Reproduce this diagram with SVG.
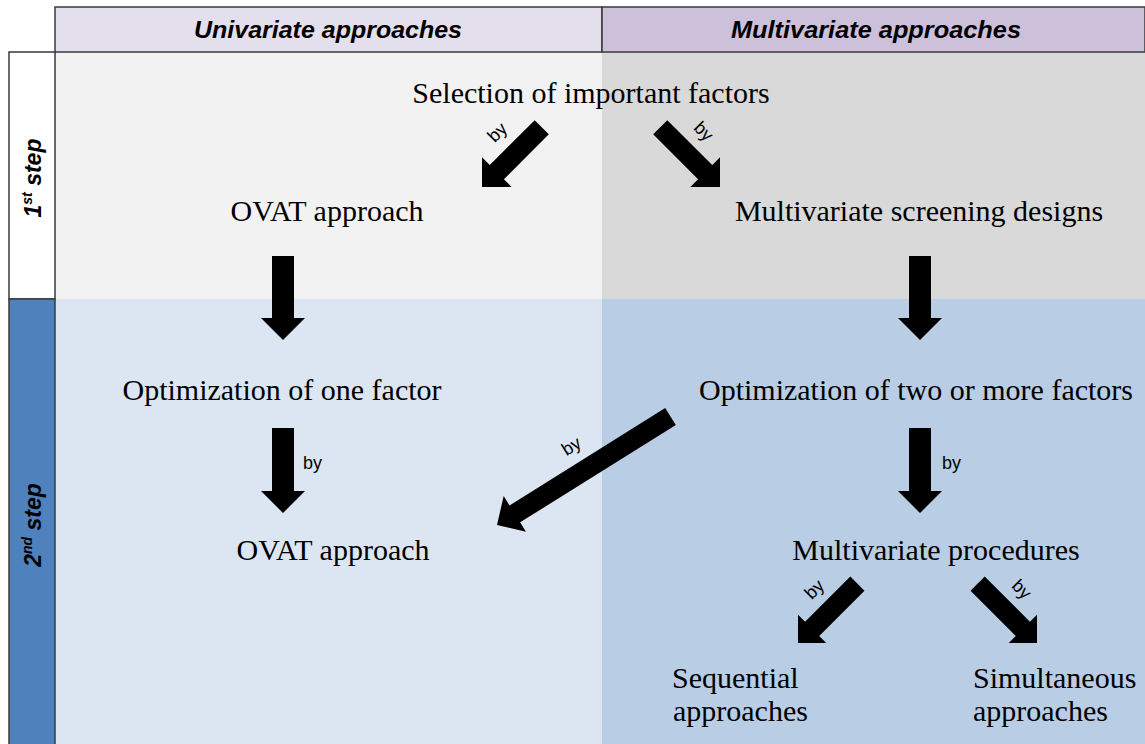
<svg xmlns="http://www.w3.org/2000/svg" width="1145" height="744" viewBox="0 0 1145 744">
  <style>
    .hdr { font-family: "Liberation Sans", Arial, sans-serif; font-weight: bold; font-style: italic; font-size: 24px; fill: #000; text-anchor: middle; }
    .step { font-family: "Liberation Sans", Arial, sans-serif; font-weight: bold; font-style: italic; font-size: 23px; fill: #000; text-anchor: middle; }
    .node { font-family: "Liberation Serif", "Times New Roman", serif; font-size: 30px; fill: #000; text-anchor: middle; }
    .left { text-anchor: start; }
    .by { font-family: "Liberation Sans", Arial, sans-serif; font-size: 18px; fill: #000; }
    .arrow { fill: #000; stroke: none; }
    .frame { stroke: #3a3a3a; stroke-width: 1.5; }
  </style>

  <!-- background quadrants -->
  <g id="quadrants">
    <rect x="55" y="52" width="547" height="247" fill="#f2f2f2"/>
    <rect x="602" y="52" width="543" height="247" fill="#d9d9d9"/>
    <rect x="55" y="299" width="547" height="445" fill="#dce6f2"/>
    <rect x="602" y="299" width="543" height="445" fill="#b9cde5"/>
  </g>

  <!-- column headers -->
  <g id="header-univariate">
    <rect class="frame" x="55" y="7" width="547" height="45" fill="#e4dfec"/>
    <text class="hdr" x="328" y="38" textLength="268" lengthAdjust="spacingAndGlyphs">Univariate approaches</text>
  </g>
  <g id="header-multivariate">
    <rect class="frame" x="602" y="7" width="543" height="45" fill="#ccc0da"/>
    <text class="hdr" x="876" y="38" textLength="290" lengthAdjust="spacingAndGlyphs">Multivariate approaches</text>
  </g>

  <!-- row headers -->
  <g id="row-step1">
    <rect class="frame" x="9" y="52" width="46" height="247" fill="#ffffff"/>
    <text class="step" transform="translate(41,178) rotate(-90)">1<tspan font-size="14" dy="-9">st</tspan><tspan dy="9"> step</tspan></text>
  </g>
  <g id="row-step2">
    <rect class="frame" x="9" y="299" width="46" height="450" fill="#4f81bd"/>
    <text class="step" transform="translate(41,525) rotate(-90)">2<tspan font-size="14" dy="-9">nd</tspan><tspan dy="9"> step</tspan></text>
  </g>

  <!-- nodes -->
  <g id="node-selection"><text class="node" x="591" y="103">Selection of important factors</text></g>
  <g id="node-ovat-1"><text class="node" x="327" y="221">OVAT approach</text></g>
  <g id="node-screening"><text class="node" x="919" y="221">Multivariate screening designs</text></g>
  <g id="node-opt-one"><text class="node" x="282" y="400">Optimization of one factor</text></g>
  <g id="node-opt-multi"><text class="node" x="916" y="400">Optimization of two or more factors</text></g>
  <g id="node-ovat-2"><text class="node" x="333" y="560">OVAT approach</text></g>
  <g id="node-procedures"><text class="node" x="936" y="560">Multivariate procedures</text></g>
  <g id="node-sequential">
    <text class="node left" x="672" y="688">Sequential</text>
    <text class="node left" x="673" y="721">approaches</text>
  </g>
  <g id="node-simultaneous">
    <text class="node left" x="973" y="688">Simultaneous</text>
    <text class="node left" x="973" y="721">approaches</text>
  </g>

  <!-- connectors: block arrows with "by" labels -->
  <g id="connectors">
    <polygon class="arrow" points="534.68,120.18 489.78,165.08 482,157.3 482,187 511.7,187 503.92,179.22 548.82,134.32"/>
    <text class="by" text-anchor="middle" transform="translate(498,133) rotate(-45)" y="5">by</text>

    <polygon class="arrow" points="653.18,134.32 698.08,179.22 690.3,187 720,187 720,157.3 712.22,165.08 667.32,120.18"/>
    <text class="by" text-anchor="middle" transform="translate(703,132) rotate(45)" y="5">by</text>

    <polygon class="arrow" points="272,256 294,256 294,318 305,318 283,340 261,318 272,318"/>
    <polygon class="arrow" points="909,256 931,256 931,318 942,318 920,340 898,318 909,318"/>

    <polygon class="arrow" points="272,428 294,428 294,491 305,491 283,513 261,491 272,491"/>
    <text class="by" x="303" y="469">by</text>

    <polygon class="arrow" points="909,428 931,428 931,491 942,491 920,513 898,491 909,491"/>
    <text class="by" x="942" y="469">by</text>

    <polygon class="arrow" points="665.2,408.12 509.51,505.39 503.68,496.06 497,525 525.94,531.68 520.11,522.35 675.8,425.08"/>
    <text class="by" text-anchor="middle" transform="translate(572,447) rotate(-32)" y="5">by</text>

    <polygon class="arrow" points="850.33,576.53 805.07,621.79 798,614.72 798,643 826.28,643 819.21,635.93 864.47,590.67"/>
    <text class="by" text-anchor="middle" transform="translate(815,590) rotate(-45)" y="5">by</text>

    <polygon class="arrow" points="970.53,590.67 1015.79,635.93 1008.72,643 1037,643 1037,614.72 1029.93,621.79 984.67,576.53"/>
    <text class="by" text-anchor="middle" transform="translate(1021,590) rotate(45)" y="5">by</text>
  </g>
</svg>
